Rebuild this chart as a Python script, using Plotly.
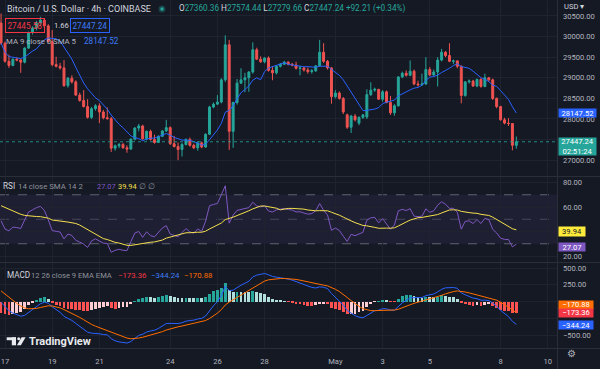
import plotly.graph_objects as go
import pandas as pd

# ------------------------------------------------------------------ data
bar_start = "2023-04-16 20:00"
bar_freq = "4h"

open_ = [30330, 29840, 29400, 29300, 29450, 29430, 29380, 29720, 30100, 30210,
         30330, 30400, 30260, 29880, 29320, 29280, 29240, 28810, 28990, 28900,
         28580, 28450, 28300, 28040, 28250, 28320, 28170, 28030, 28010, 27290,
         27350, 27380, 27300, 27270, 27510, 27780, 27830, 27520, 27700, 27500,
         27430, 27580, 27710, 27790, 27400, 27330, 27260, 27380, 27500, 27360,
         27300, 27420, 27320, 27630, 28290, 28360, 28410, 28950, 29800, 27700,
         28400, 28870, 28950, 29000, 29140, 29680, 29450, 29390, 29480, 29180,
         29120, 29280, 29330, 29380, 29330, 29310, 29230, 29240, 29190, 29150,
         29170, 29290, 29620, 29400, 29240, 28540, 28630, 28500, 28100, 27800,
         28070, 27900, 28040, 28050, 28590, 28700, 28720, 28480, 28660, 28400,
         28150, 28320, 29020, 29110, 29060, 29160, 28850, 28830, 28850, 29200,
         29070, 29140, 29430, 29620, 29540, 29400, 29410, 29280, 28570, 28900,
         28920, 28800, 28960, 28790, 29000, 28950, 28500, 28300, 27980, 27900,
         27890, 27360.36]
high_ = [30560, 29880, 29560, 29470, 29500, 29460, 29740, 30120, 30250, 30380,
         30480, 30420, 30300, 30160, 29510, 29360, 29430, 29020, 29060, 28940,
         28640, 28700, 28480, 28290, 28360, 28380, 28220, 28280, 28050, 27380,
         27420, 27420, 27360, 27530, 27800, 27880, 27860, 27720, 27740, 27620,
         27600, 27730, 27980, 27820, 27590, 27430, 27420, 27530, 27550, 27400,
         27460, 27450, 27650, 28320, 28400, 28580, 28990, 30030, 29920, 28420,
         28970, 29230, 29120, 29160, 29860, 29730, 29520, 29500, 29520, 29280,
         29300, 29360, 29410, 29400, 29360, 29390, 29290, 29270, 29250, 29210,
         29300, 29920, 29840, 29430, 29260, 28700, 28670, 28530, 28130, 28100,
         28120, 28060, 28120, 28720, 28890, 28760, 28730, 28700, 28690, 28560,
         28360, 29040, 29150, 29180, 29420, 29200, 28930, 29100, 29500, 29260,
         29200, 29500, 29700, 29650, 29840, 29440, 29420, 29300, 28920, 28960,
         28950, 28980, 28990, 29100, 29020, 28980, 28520, 28320, 28030, 28020,
         27900, 27574.44]
low_ = [29800, 29370, 29240, 29280, 29400, 29120, 29350, 29700, 30050, 30150,
        30260, 30200, 29850, 29280, 29250, 29200, 28780, 28760, 28860, 28560,
        28420, 28280, 28010, 28000, 28200, 27900, 27990, 27980, 27200, 27230,
        27290, 27280, 27180, 27250, 27480, 27700, 27500, 27480, 27480, 27400,
        27420, 27560, 27690, 27370, 27310, 27000, 27090, 27360, 27330, 27270,
        27230, 27290, 27300, 27610, 28260, 28340, 28380, 28900, 27250, 27300,
        28350, 28850, 28650, 28660, 29100, 29440, 29360, 29350, 29150, 28940,
        29080, 29250, 29310, 29300, 29280, 29200, 29060, 29150, 29100, 29100,
        29140, 29270, 29360, 29200, 28370, 28500, 28470, 28120, 27760, 27660,
        27940, 27850, 28000, 28000, 28560, 28660, 28470, 28420, 28380, 28100,
        28080, 28300, 28990, 29030, 29040, 28820, 28790, 28800, 28830, 29040,
        29040, 28790, 29400, 29500, 29380, 29330, 29230, 28380, 28540, 28860,
        28780, 28770, 28760, 28770, 28900, 28460, 28260, 27960, 27870, 27830,
        27240, 27279.66]
close_ = [29840, 29400, 29300, 29450, 29430, 29380, 29720, 30100, 30210, 30330,
          30400, 30260, 29880, 29320, 29280, 29240, 28810, 28990, 28900, 28580,
          28450, 28300, 28040, 28250, 28320, 28170, 28030, 28010, 27290, 27350,
          27380, 27300, 27270, 27510, 27780, 27830, 27520, 27700, 27500, 27430,
          27580, 27710, 27790, 27400, 27330, 27260, 27380, 27500, 27360, 27300,
          27420, 27320, 27630, 28290, 28360, 28410, 28950, 29800, 27700, 28400,
          28870, 28950, 29000, 29140, 29680, 29450, 29390, 29480, 29180, 29120,
          29280, 29330, 29380, 29330, 29310, 29230, 29240, 29190, 29150, 29170,
          29290, 29620, 29400, 29240, 28540, 28630, 28500, 28170, 27800, 28070,
          27980, 28040, 28100, 28590, 28700, 28720, 28480, 28660, 28400, 28150,
          28320, 29020, 29110, 29060, 29160, 28850, 28830, 28850, 29200, 29070,
          29140, 29430, 29620, 29540, 29400, 29410, 29280, 28570, 28900, 28920,
          28800, 28960, 28790, 29000, 28950, 28500, 28300, 27980, 27900, 27890,
          27360, 27447.24]

ma_length = 9
rsi_length = 14
rsi_ma_length = 14
macd_fast, macd_slow, macd_sig = 12, 26, 9

# indicator state just before the first visible bar (estimated)
seed_prev_close = 30330
seed_avg_gain = 110
seed_avg_loss = 78
seed_prior_rsi = [62] * 13
seed_ema_fast = 30330
seed_ema_slow = 30300
seed_signal = 200

price_ticks = [27000, 27500, 28000, 28500, 29000, 29500, 30000, 30500]
price_tick_text = ["27000.00", "", "28000.00", "28500.00", "29000.00", "29500.00",
                   "30000.00", "30500.00"]
rsi_ticks = [20, 40, 60, 80]
rsi_tick_text = ["20.00", "", "60.00", "80.00"]
macd_ticks = [-500, -250, 0, 250, 500]
macd_tick_text = ["\u2212500.00", "", "", "250.00", "500.00"]
rsi_bands = [30, 50, 70]
time_tick_dates = ["2023-04-17", "2023-04-19", "2023-04-21", "2023-04-24", "2023-04-26",
                   "2023-04-28", "2023-05-01", "2023-05-03", "2023-05-05", "2023-05-08",
                   "2023-05-10"]
time_tick_text = ["17", "19", "21", "24", "26", "28", "May", "3", "5", "8", "10"]

title_text = "Bitcoin / U.S. Dollar · 4h · COINBASE"
ohlc_vals = ["27360.36", "27574.44", "27279.66", "27447.24"]
change_text = "+92.21 (+0.34%)"
bid_text, spread_text, ask_text = "27445.58", "1.66", "27447.24"
ma_legend = "MA 9 close 0 SMA 5"
ma_value_text = "28147.52"
last_price_text = "27447.24"
countdown_text = "02:51:24"
rsi_legend = "14 close SMA 14 2"
rsi_value_text, rsi_ma_value_text = "27.07", "39.94"
rsi_value, rsi_ma_value = 27.07, 39.94
macd_legend = "12 26 close 9 EMA EMA"
hist_value, macd_value, signal_value = -173.36, -344.24, -170.88

# ------------------------------------------------------------------ indicators
times = pd.date_range(bar_start, periods=len(close_), freq=bar_freq)
cs = pd.Series(close_)
ma = cs.rolling(ma_length, min_periods=1).mean()

rsi = []
ag, al, prev = seed_avg_gain, seed_avg_loss, seed_prev_close
for c in close_:
    ch = c - prev
    ag = (ag * (rsi_length - 1) + max(ch, 0)) / rsi_length
    al = (al * (rsi_length - 1) + max(-ch, 0)) / rsi_length
    rsi.append(100 - 100 / (1 + ag / al))
    prev = c
rsi_ma = pd.Series(seed_prior_rsi + rsi).rolling(rsi_ma_length).mean().iloc[len(seed_prior_rsi):].tolist()

macd, sig = [], []
ef, es, sg = seed_ema_fast, seed_ema_slow, seed_signal
for c in close_:
    ef += 2 / (macd_fast + 1) * (c - ef)
    es += 2 / (macd_slow + 1) * (c - es)
    m = ef - es
    sg += 2 / (macd_sig + 1) * (m - sg)
    macd.append(m)
    sig.append(sg)
hist = [m - s for m, s in zip(macd, sig)]
hcol = []
for i, h in enumerate(hist):
    p = hist[i - 1] if i > 0 else h
    if h >= 0:
        hcol.append("#26a69a" if h >= p else "#b2dfdb")
    else:
        hcol.append("#ff5252" if h <= p else "#ffcdd2")

# ------------------------------------------------------------------ style
BG = "#151924"
GRID = "#1f2330"
SEP = "#2a2e39"
TXT = "#d1d4dc"
AX = "#b2b5be"
GRAY = "#8f929c"
UP = "#26a69a"
DN = "#ef5350"
BLUE = "#2962ff"
PURPLE = "#7e57c2"
YELLOW = "#f4e04d"
ORANGE = "#ff6d00"
FONT = "Roboto, 'Open Sans', sans-serif"

W, H = 600, 369
PW, PH = 557, 348          # plot area in px (left/top margin 0)


def px(x):
    return x / PW


def py(y):
    return (PH - y) / PH


day = 23.6                  # px per day
x_left = pd.Timestamp("2023-04-17") - pd.Timedelta(days=5 / day)
x_right = pd.Timestamp("2023-04-17") + pd.Timedelta(days=(PW - 5) / day)

fig = go.Figure()
fig.add_trace(go.Candlestick(
    x=times, open=open_, high=high_, low=low_, close=close_,
    increasing=dict(line=dict(color=UP, width=1), fillcolor=UP),
    decreasing=dict(line=dict(color=DN, width=1), fillcolor=DN),
    whiskerwidth=0, xaxis="x", yaxis="y", hoverinfo="skip", showlegend=False))
fig.add_trace(go.Scatter(x=times, y=ma, mode="lines", line=dict(color=BLUE, width=1),
                         xaxis="x", yaxis="y", hoverinfo="skip", showlegend=False))
fig.add_trace(go.Scatter(x=times, y=rsi, mode="lines", line=dict(color=PURPLE, width=1),
                         xaxis="x2", yaxis="y2", hoverinfo="skip", showlegend=False))
fig.add_trace(go.Scatter(x=times, y=rsi_ma, mode="lines", line=dict(color=YELLOW, width=1),
                         xaxis="x2", yaxis="y2", hoverinfo="skip", showlegend=False))
fig.add_trace(go.Bar(x=times, y=hist, marker=dict(color=hcol, line=dict(width=0)),
                     width=4 * 3600 * 1000 * 0.72, xaxis="x3", yaxis="y3",
                     hoverinfo="skip", showlegend=False))
fig.add_trace(go.Scatter(x=times, y=macd, mode="lines", line=dict(color=BLUE, width=1),
                         xaxis="x3", yaxis="y3", hoverinfo="skip", showlegend=False))
fig.add_trace(go.Scatter(x=times, y=sig, mode="lines", line=dict(color=ORANGE, width=1),
                         xaxis="x3", yaxis="y3", hoverinfo="skip", showlegend=False))

xcommon = dict(type="date", range=[x_left, x_right], tickvals=time_tick_dates,
               ticktext=time_tick_text, showgrid=True, gridcolor=GRID, gridwidth=1,
               zeroline=False, showline=False, ticks="", fixedrange=True)
ycommon = dict(side="right", showgrid=True, gridcolor=GRID, gridwidth=1, zeroline=False,
               showline=False, ticks="", fixedrange=True,
               tickfont=dict(size=7.6, color=AX, family=FONT), ticklabelstandoff=5)

fig.update_layout(
    width=W, height=H, margin=dict(l=0, r=W - PW, t=0, b=H - PH),
    paper_bgcolor=BG, plot_bgcolor=BG, font=dict(family=FONT, color=TXT),
    showlegend=False, bargap=0,
    xaxis=dict(**xcommon, anchor="y", showticklabels=False, rangeslider=dict(visible=False)),
    xaxis2=dict(**xcommon, anchor="y2", matches="x", showticklabels=False),
    xaxis3=dict(**xcommon, anchor="y3", matches="x", showticklabels=True,
                tickfont=dict(size=7.6, color=AX, family=FONT), ticklabelstandoff=7),
    yaxis=dict(**ycommon, anchor="x", domain=[py(176), 1], range=[26616, 30888],
               tickvals=price_ticks, ticktext=price_tick_text),
    yaxis2=dict(**ycommon, anchor="x2", domain=[py(262), py(177)], range=[15.1, 84.5],
                tickvals=rsi_ticks, ticktext=rsi_tick_text),
    yaxis3=dict(**ycommon, anchor="x3", domain=[0, py(263)], range=[-694, 575],
                tickvals=macd_ticks, ticktext=macd_tick_text),
)

shapes = []
# RSI band
shapes.append(dict(type="rect", xref="paper", yref="y2", x0=0, x1=1, y0=rsi_bands[0],
                   y1=rsi_bands[2], fillcolor="rgba(126,87,194,0.10)", line=dict(width=0),
                   layer="between"))
for v, op in zip(rsi_bands, [0.75, 0.45, 0.75]):
    shapes.append(dict(type="line", xref="paper", yref="y2", x0=0, x1=1, y0=v, y1=v,
                       line=dict(color="#787b86", width=1, dash="dash"), opacity=op,
                       layer="between"))
# MACD zero line
shapes.append(dict(type="line", xref="paper", yref="y3", x0=0, x1=1, y0=0, y1=0,
                   line=dict(color="#787b86", width=1, dash="dash"), opacity=0.5,
                   layer="between"))
# last price dotted line
shapes.append(dict(type="line", xref="paper", yref="y", x0=0, x1=1, y0=close_[-1],
                   y1=close_[-1], line=dict(color=UP, width=1, dash="dot"), opacity=0.8))
# pane separators
for yy in [176.5, 262.5, 348.5]:
    shapes.append(dict(type="line", xref="paper", yref="paper", x0=0, x1=px(W),
                       y0=py(yy), y1=py(yy), line=dict(color=SEP, width=1)))
shapes.append(dict(type="line", xref="paper", yref="paper", x0=px(557.5), x1=px(557.5),
                   y0=py(0), y1=py(H), line=dict(color=SEP, width=1)))
# live dot
shapes.append(dict(type="circle", xref="paper", yref="paper", x0=px(158.5), x1=px(165.5),
                   y0=py(12.5), y1=py(5.5), fillcolor="rgba(38,166,154,0.3)",
                   line=dict(width=0)))
shapes.append(dict(type="circle", xref="paper", yref="paper", x0=px(160.3), x1=px(163.7),
                   y0=py(10.7), y1=py(7.3), fillcolor=UP, line=dict(width=0)))
# TradingView logo mark
LOGO = "#e8eaed"
shapes.append(dict(type="rect", xref="paper", yref="paper", x0=px(6.7), x1=px(16),
                   y0=py(340.2), y1=py(337.3), fillcolor=LOGO, line=dict(width=0)))
shapes.append(dict(type="rect", xref="paper", yref="paper", x0=px(11.8), x1=px(16),
                   y0=py(345.3), y1=py(337.3), fillcolor=LOGO, line=dict(width=0)))
shapes.append(dict(type="circle", xref="paper", yref="paper", x0=px(17.2), x1=px(20.2),
                   y0=py(340.3), y1=py(337.3), fillcolor=LOGO, line=dict(width=0)))
logo_path = "M {} {} L {} {} L {} {} L {} {} Z".format(
    px(21.6), py(337.3), px(25.6), py(337.3), px(20.9), py(345.3), px(16.9), py(345.3))
shapes.append(dict(type="path", xref="paper", yref="paper", path=logo_path,
                   fillcolor=LOGO, line=dict(width=0)))
fig.update_layout(shapes=shapes)

ann = []


def text(x, y, t, size=8.2, color=TXT, **kw):
    ann.append(dict(xref="paper", yref="paper", x=px(x), y=py(y), text=t, showarrow=False,
                    xanchor="left", yanchor="middle", font=dict(size=size, color=color,
                                                                 family=FONT), **kw))


text(5, 9, title_text, size=9)
g = lambda v: "<span style='color:%s'>%s</span>" % (UP, v)
text(177, 9, "O" + g(ohlc_vals[0]) + " H" + g(ohlc_vals[1]) + " L" + g(ohlc_vals[2]) +
     " C" + g(ohlc_vals[3]) + " " + g(change_text), size=8.2)
text(5, 25, bid_text, size=8.2, color="#f23645", bordercolor="#f23645", borderwidth=1,
     borderpad=1.5)
text(52, 25, spread_text, size=7.6, color=TXT)
text(70, 25, ask_text, size=8.2, color="#3d7bf7", bordercolor="#2962ff", borderwidth=1,
     borderpad=1.5)
text(4, 41, ma_legend, size=7.8, color="#b2b5be")
text(82, 41, ma_value_text, size=8.2, color="#3d7bf7")
text(1, 186, "RSI", size=8.2, color=TXT)
text(16, 186, rsi_legend, size=7.8, color=GRAY)
text(95, 186, rsi_value_text, size=7.4, color=PURPLE)
text(116, 186, rsi_ma_value_text, size=7.4, color=YELLOW)
text(137, 186, "∅ ∅", size=7.8, color=GRAY)
text(5, 275, "MACD", size=8.2, color=TXT)
text(29, 275, macd_legend, size=7.6, color=GRAY)
text(116, 275, "%.2f" % hist_value, size=7.8, color="#f23645")
text(149, 275, "%.2f" % macd_value, size=7.8, color="#3d7bf7")
text(182, 275, "%.2f" % signal_value, size=7.8, color=ORANGE)
for a in ann[-3:]:
    a["text"] = a["text"].replace("-", "\u2212")
text(27, 341, "<b>TradingView</b>", size=11, color=LOGO)
text(562, 7, "USD ▾", size=7.6, color=TXT)
ann.append(dict(xref="paper", yref="paper", x=px(578), y=py(361), text="⚙",
                showarrow=False, font=dict(size=10, color=AX)))


def tag(yref, y, t, bg, fg="#ffffff", w=37, h=8, yshift=0):
    ann.append(dict(xref="paper", yref=yref, x=px(557.5), y=y, text=t, showarrow=False,
                    xanchor="left", yanchor="middle", bgcolor=bg, width=w, height=h,
                    borderpad=0, align="center", yshift=yshift,
                    font=dict(size=7.6, color=fg, family=FONT)))


tag("y", float(ma.iloc[-1]), ma_value_text, BLUE)
ann.append(dict(xref="paper", yref="y", x=px(557.5), y=close_[-1], text=last_price_text +
                "<br>" + countdown_text, showarrow=False, xanchor="left", yanchor="top",
                yshift=4.5, bgcolor=UP, width=37, height=17, borderpad=0, align="center",
                font=dict(size=7.6, color="#ffffff", family=FONT)))
tag("y2", rsi_ma_value, rsi_ma_value_text, "#ffeb3b", fg="#131722", w=26, h=9)
tag("y2", rsi_value, rsi_value_text, PURPLE, w=26, h=8)
tag("y3", signal_value, "%.2f" % signal_value, ORANGE, w=34, h=7.5, yshift=7.5)
tag("y3", hist_value, "%.2f" % hist_value, "#f23645", w=34, h=7.5)
tag("y3", macd_value, "%.2f" % macd_value, BLUE, w=34, h=8)
for a in ann[-3:]:
    a["text"] = a["text"].replace("-", "\u2212")
fig.update_layout(annotations=ann)

fig.write_html("out.html", config={"displayModeBar": False},
               post_script="document.body.style.margin='0';")
